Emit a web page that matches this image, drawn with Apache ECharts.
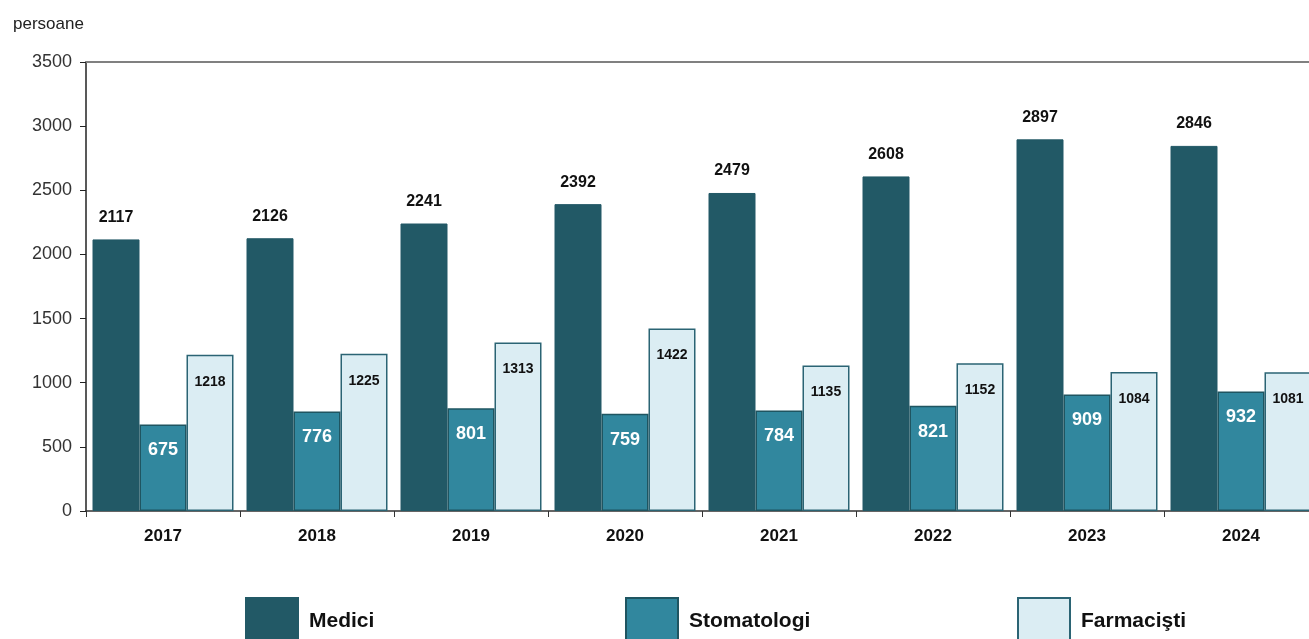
<!DOCTYPE html>
<html>
<head>
<meta charset="utf-8">
<script src="https://cdn.jsdelivr.net/npm/echarts@6/dist/echarts.min.js"></script>
<style>
  html, body { margin: 0; padding: 0; background: #fff; overflow: hidden; }
  #chart { width: 1318px; height: 639px; }
</style>
</head>
<body>
<div id="chart"></div>
<script>
var years = ['2017', '2018', '2019', '2020', '2021', '2022', '2023', '2024'];
var medici = [2117, 2126, 2241, 2392, 2479, 2608, 2897, 2846];
var stomatologi = [675, 776, 801, 759, 784, 821, 909, 932];
var farmacisti = [1218, 1225, 1313, 1422, 1135, 1152, 1084, 1081];
var yTicks = [0, 500, 1000, 1500, 2000, 2500, 3000, 3500];

var font = '"Liberation Sans", Arial, sans-serif';
var cMedici = '#225966';
var cStoma = '#31879e';
var cFarma = '#dbedf3';
var cBorder = '#1f5561';

// the plot runs a little past the right edge of the window, as in the original
var myChart = echarts.init(document.getElementById('chart'));

function legendItem(name, left) {
    return {
        left: left,
        top: 592,
        itemWidth: 52,
        itemHeight: 46,
        itemGap: 0,
        icon: 'rect',
        data: [name],
        selectedMode: false,
        textStyle: { fontFamily: font, fontSize: 21, fontWeight: 'bold', color: '#111', padding: [0, 0, 0, 6] }
    };
}

var option = {
    animation: false,
    title: {
        text: 'persoane',
        left: 8,
        top: 11,
        textStyle: { fontFamily: font, fontSize: 17, fontWeight: 'normal', color: '#222' }
    },
    legend: [
        legendItem('Medici', 240),
        legendItem('Stomatologi', 620),
        legendItem('Farmacişti', 1012)
    ],
    grid: { left: 86, right: 0, top: 62, bottom: 128, containLabel: false },
    xAxis: [
        {
            type: 'category',
            data: years,
            axisLine: { lineStyle: { color: '#333', width: 1.5 } },
            axisTick: { show: true, length: 6, lineStyle: { color: '#333' } },
            axisLabel: { margin: 17, fontFamily: font, fontSize: 17, fontWeight: 'bold', color: '#111' }
        },
        {
            type: 'category',
            data: years,
            position: 'top',
            axisLine: { lineStyle: { color: '#808080', width: 2 } },
            axisTick: { show: false },
            axisLabel: { show: false }
        }
    ],
    yAxis: {
        type: 'value',
        min: yTicks[0],
        max: yTicks[yTicks.length - 1],
        interval: 500,
        axisLine: { show: true, lineStyle: { color: '#222', width: 1.5 } },
        axisTick: { show: true, length: 6, lineStyle: { color: '#222' } },
        splitLine: { show: false },
        axisLabel: {
            margin: 14,
            fontFamily: font,
            fontSize: 18,
            color: '#333',
            formatter: function (v) { return String(v); }
        }
    },
    series: [
        {
            name: 'Medici',
            type: 'bar',
            data: medici,
            barWidth: 47,
            barGap: '0%',
            itemStyle: { color: cMedici, borderColor: cMedici, borderWidth: 1 },
            label: {
                show: true,
                position: 'top',
                distance: 14,
                fontFamily: font,
                fontSize: 16,
                fontWeight: 'bold',
                color: '#111'
            }
        },
        {
            name: 'Stomatologi',
            type: 'bar',
            data: stomatologi,
            barWidth: 47,
            barGap: '0%',
            itemStyle: { color: cStoma, borderColor: cBorder, borderWidth: 1.5 },
            label: {
                show: true,
                position: 'insideTop',
                distance: 17,
                fontFamily: font,
                fontSize: 18,
                fontWeight: 'bold',
                color: '#fff'
            }
        },
        {
            name: 'Farmacişti',
            type: 'bar',
            data: farmacisti,
            barWidth: 47,
            barGap: '0%',
            itemStyle: { color: cFarma, borderColor: '#2b6474', borderWidth: 1.5 },
            label: {
                show: true,
                position: 'insideTop',
                distance: 20,
                fontFamily: font,
                fontSize: 14,
                fontWeight: 'bold',
                color: '#111'
            }
        }
    ]
};

myChart.setOption(option);
</script>
</body>
</html>
